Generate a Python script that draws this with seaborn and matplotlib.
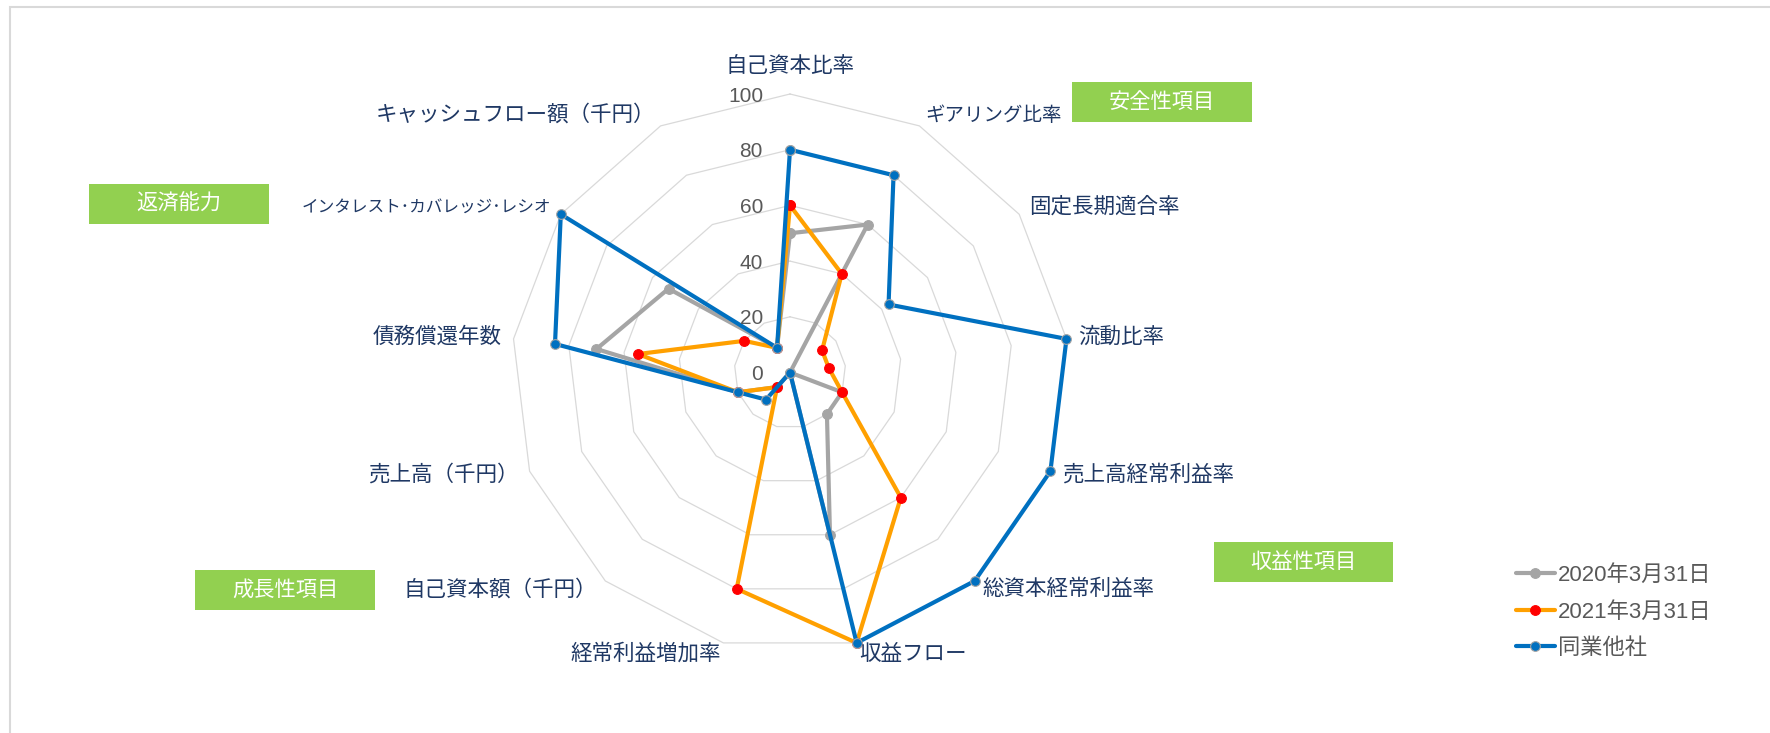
'''
radar chart of financial indicators (3 series)
'''

import numpy as np
import pandas as pd
import matplotlib
matplotlib.use('Agg')
import matplotlib.pyplot as plt
import seaborn as sns

# data
categories = ['自己資本比率', 'ギアリング比率', '固定長期適合率', '流動比率',
              '売上高経常利益率', '総資本経常利益率', '収益フロー', '経常利益増加率',
              '自己資本額（千円）', '売上高（千円）', '債務償還年数',
              'インタレスト･カバレッジ･レシオ', 'キャッシュフロー額（千円）']
series_names = ['2020年3月31日', '2021年3月31日', '同業他社']
val_2020 = [50, 60, 0, 0, 20, 20, 60, 0, 7, 20, 70, 53, 10]
val_2021 = [60, 40, 14, 14, 20, 60, 100, 80, 7, 20, 55, 20, 10]
val_peer = [80, 80, 43, 100, 100, 100, 100, 0, 13, 20, 85, 100, 10]
r_ticks = [0, 20, 40, 60, 80, 100]
group_labels = ['安全性項目', '返済能力', '収益性項目', '成長性項目']

W, H = 1770, 733
sns.set_style('white')
plt.rcParams['font.family'] = ['Liberation Sans', 'Noto Sans CJK JP']

n = len(categories)
theta = np.linspace(0, 2 * np.pi, n, endpoint=False)
theta_closed = np.append(theta, 2 * np.pi)

rows = []
for name, vals in zip(series_names, [val_2020, val_2021, val_peer]):
    vv = list(vals) + [vals[0]]
    for t, v in zip(theta_closed, vv):
        rows.append({'theta': t, 'value': v, 'series': name})
df = pd.DataFrame(rows)

fig = plt.figure(figsize=(W / 100, H / 100), dpi=100)
cx, cy, R = 790, 372.5, 278.5
ax = fig.add_axes([(cx - R) / W, (H - cy - R) / H, 2 * R / W, 2 * R / H], projection='polar')
ax.set_theta_zero_location('N')
ax.set_theta_direction(-1)

# polygon grid rings
for r in r_ticks[1:]:
    ax.plot(theta_closed, [r] * (n + 1), color='#d9d9d9', lw=0.9, zorder=1, clip_on=False)

styles = {
    '2020年3月31日': dict(color='#a5a5a5', markerfacecolor='#a5a5a5', markeredgecolor='#a5a5a5'),
    '2021年3月31日': dict(color='#ffa000', markerfacecolor='#ff0000', markeredgecolor='#ff0000'),
    '同業他社': dict(color='#0070c0', markerfacecolor='#0070c0', markeredgecolor='#a5a5a5'),
}
handles = []
for name in series_names:
    sub = df[df['series'] == name]
    sns.lineplot(data=sub, x='theta', y='value', sort=False, estimator=None, ax=ax,
                 lw=3, marker='o', markersize=7, markeredgewidth=0.8,
                 label=name, zorder=3, **styles[name])
    line = ax.lines[-1]
    line.set_clip_on(False)
    handles.append(line)

if ax.get_legend() is not None:
    ax.get_legend().remove()
ax.set_ylim(0, 100)
ax.set_xlim(0, 2 * np.pi)
ax.set_xticks([])
ax.set_yticks([])
ax.grid(False)
ax.spines['polar'].set_visible(False)
ax.set_xlabel('')
ax.set_ylabel('')

# radial tick labels
for r in r_ticks:
    ax.annotate(str(r), xy=(0, r), xytext=(-27, -2), textcoords='offset pixels',
                ha='right', va='center', fontsize=15, color='#595959')

# category labels (katakana-heavy ones a bit smaller, the reference font is proportional)
pad = 12
label_sizes = {1: 14, 11: 12}
for k, (t, lab) in enumerate(zip(theta, categories)):
    a = np.pi / 2 - t
    fs = label_sizes.get(k, 15.5)
    if k == 0:
        ax.annotate(lab, xy=(t, 100), xytext=(0, 17), textcoords='offset pixels',
                    ha='center', va='bottom', fontsize=fs, color='#1f3864')
        continue
    ha = 'left' if np.cos(a) > 0 else 'right'
    ax.annotate(lab, xy=(t, 100), xytext=(pad * np.cos(a), pad * np.sin(a)),
                textcoords='offset pixels', ha=ha, va='center', fontsize=fs,
                color='#1f3864', annotation_clip=False)

# green group boxes (pixel boxes: x0, y0, x1, y1)
boxes = [(1072, 82, 1252, 122), (89, 184, 269, 224), (1214, 542, 1393, 582), (195, 570, 375, 610)]
for (x0, y0, x1, y1), lab in zip(boxes, group_labels):
    fig.add_artist(plt.Rectangle((x0 / W, 1 - y1 / H), (x1 - x0) / W, (y1 - y0) / H,
                                 transform=fig.transFigure, facecolor='#92d050', edgecolor='none'))
    fig.text((x0 + x1) / 2 / W, 1 - (y0 + y1) / 2 / H, lab, ha='center', va='center',
             fontsize=15.3, color='white')

# chart frame
fig.add_artist(plt.Rectangle((10 / W, -0.5), 2, 0.5 + 1 - 7 / H, transform=fig.transFigure,
                             fill=False, edgecolor='#d9d9d9', lw=1.5))

fig.legend(handles, series_names, loc='center left', bbox_to_anchor=(1516 / W, 1 - 612 / H),
           frameon=False, fontsize=16, handlelength=1.75, handletextpad=0.12,
           labelspacing=0.7, borderpad=0, borderaxespad=0, labelcolor='#595959')

fig.savefig('out.png', dpi=100)
